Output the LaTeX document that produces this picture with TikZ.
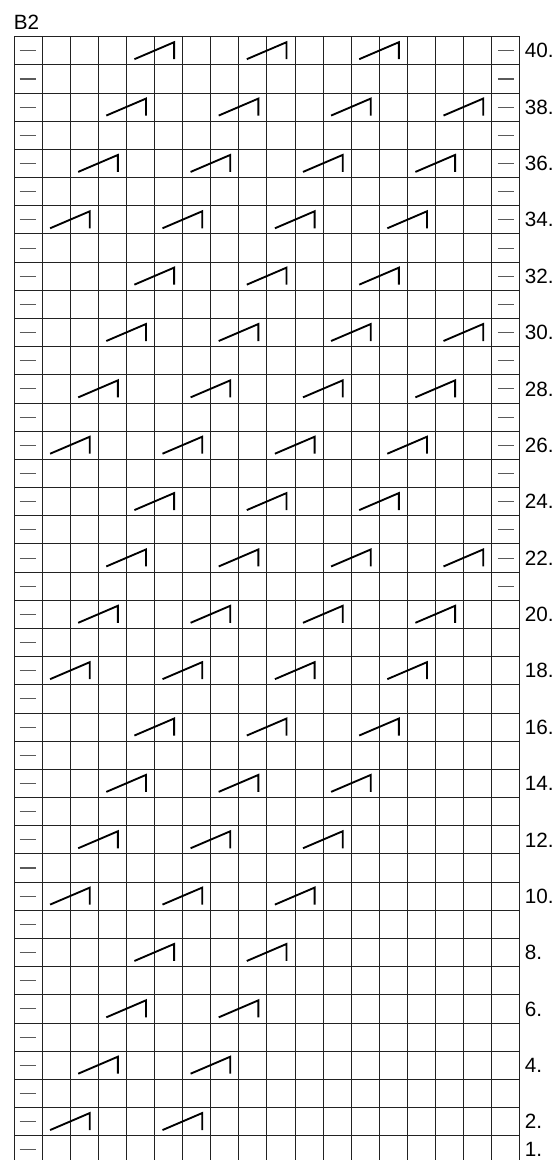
\documentclass[tikz,border=0pt]{standalone}
\usepackage{fontspec}
\setmainfont{Liberation Sans}
\usetikzlibrary{positioning}
\definecolor{gridline}{HTML}{222222}
\definecolor{purlmark}{HTML}{5A5A5A}
\newcommand{\cellw}{28.1}
\newcommand{\cellh}{28.18}
\newcommand{\slantst}[2]{%
  \begin{scope}[shift={({14+(#1-1)*\cellw},{36.7+(40-#2)*\cellh})}]
    \draw[stitch] (8,22.5) -- ({2*\cellw-8.5},5.5) -- ({2*\cellw-8.5},22.5);
  \end{scope}%
}

\begin{document}
\begin{tikzpicture}[x=0.75pt, y=-0.75pt]
    \tikzset{grid/.style={draw=gridline, line width=0.75pt},
             purl/.style={draw=purlmark, line width=0.8pt},
             stitch/.style={draw=black, line width=1.4pt, line join=miter},
             rowlbl/.style={font=\fontsize{15.5}{18}\selectfont, anchor=west, inner sep=0pt}}

    \useasboundingbox (0,0) rectangle (560,1160);
    \clip (0,0) rectangle (560,1160);

    \node[font=\fontsize{15.5}{18}\selectfont, anchor=base west, inner sep=0pt] (title) at (13.5,29) {B2};

    \foreach \r in {1,...,40}
      \draw[purl] (19.5,{36.7+(40.5-\r)*\cellh}) -- ++(16,0);
    \foreach \r in {21,...,40}
      \draw[purl] ({14+17.5*\cellw-8},{36.7+(40.5-\r)*\cellh}) -- ++(16,0);

    \foreach \c in {0,...,18}
      \draw[grid] ({14+\c*\cellw},36.7) -- ++(0,{40*\cellh});
    \foreach \r in {0,...,40}
      \draw[grid] (14,{36.7+\r*\cellh}) -- ++({18*\cellw},0);

    \foreach \r/\cols in {40/{5,9,13}, 38/{4,8,12,16}, 36/{3,7,11,15}, 34/{2,6,10,14},
                          32/{5,9,13}, 30/{4,8,12,16}, 28/{3,7,11,15}, 26/{2,6,10,14},
                          24/{5,9,13}, 22/{4,8,12,16}, 20/{3,7,11,15}, 18/{2,6,10,14},
                          16/{5,9,13}, 14/{4,8,12}, 12/{3,7,11}, 10/{2,6,10},
                          8/{5,9}, 6/{4,8}, 4/{3,7}, 2/{2,6}}
      \foreach \c in \cols {\slantst{\c}{\r}}

    \foreach \r in {2,4,...,40}
      \node[rowlbl] (r\r) at (524.5,{36.7+(40.5-\r)*\cellh}) {\r.};
    \node[rowlbl] (r1) at (524.5,{36.7+39.5*\cellh}) {1.};
\end{tikzpicture}
\end{document}
